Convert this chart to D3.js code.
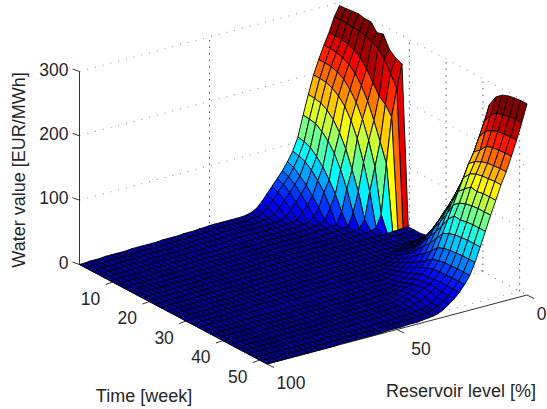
<!DOCTYPE html>
<html>
<head>
<meta charset="utf-8">
<script src="https://cdn.jsdelivr.net/npm/d3@7"></script>
<style>
  html, body { margin: 0; padding: 0; background: #fff; }
  svg { display: block; }
  text { font-family: "Liberation Sans", Arial, sans-serif; fill: #262626; }
</style>
</head>
<body>
<svg id="chart" width="547" height="409"></svg>
<script>
// ----------------------------------------------------------------
// DATA, one row per time step
// ----------------------------------------------------------------
const weeks = [1, 2.7, 4.4, 6.1, 7.8, 9.5, 11.2, 12.9, 14.6, 16.3, 18, 19.7, 21.4, 23.1, 24.8, 26.5,
  28.2, 29.9, 31.6, 33.3, 35, 36.7, 38.4, 40.1, 41.8, 43.5, 45.2, 46.9, 48.6, 50.3, 52];
const levels = [0, 2, 4, 6, 8, 10, 12, 14, 16, 18, 20, 22, 24, 26, 28, 30, 32, 34, 36, 38, 40, 42, 44, 46, 48, 50,
  52, 54, 56, 58, 60, 62, 64, 66, 68, 70, 72, 74, 76, 78, 80, 82, 84, 86, 88, 90, 92, 94, 96, 98, 100];

// water value [EUR/MWh], rows = weeks, columns = levels
const waterValues = [
  [295,280,258,240,220,198,170,140,108,88, 74,62,52,42,32,22,14,10,8,7, 7,7,7,7,7,7,6,6,5,5, 5,4,4,4,4,3,3,3,3,3, 3,2,2,2,2,2,1,1,1,0, 0],
  [296,280,258,240,220,198,169,139,106,86, 70,58,48,38,28,19,12,9,8,7, 7,7,7,7,7,7,6,6,5,5, 5,4,4,4,4,3,3,3,3,3, 3,2,2,2,2,2,1,1,1,0, 0],
  [297,280,257,239,219,197,167,137,102,82, 62,51,41,31,21,13,9,8,7,7, 7,7,7,7,7,7,6,6,5,5, 5,4,4,4,4,3,3,3,3,3, 3,2,2,2,2,2,1,1,1,0, 0],
  [298,279,255,236,216,193,161,130,93,74, 53,41,31,21,12,9,8,7,7,7, 7,7,7,7,7,7,6,6,5,5, 5,4,4,4,4,3,3,3,3,3, 3,2,2,2,2,2,1,1,1,0, 0],
  [296,278,251,231,210,186,151,120,82,63, 41,30,20,10,9,8,7,7,7,6, 7,7,7,7,7,7,6,6,5,5, 5,4,4,4,4,3,3,3,3,3, 3,2,2,2,2,2,1,1,1,0, 0],
  [296,276,244,222,199,175,136,106,67,50, 28,17,10,9,8,7,7,6,6,6, 6,6,6,6,6,5,5,5,5,4, 4,4,4,4,3,3,3,3,3,2, 2,2,2,2,1,1,1,1,1,0, 0],
  [284,272,232,208,184,158,116,86,50,31, 14,10,9,8,7,7,6,6,6,6, 6,6,6,5,5,5,5,5,4,4, 4,4,4,4,3,3,3,3,3,2, 2,2,2,2,1,1,1,1,1,0, 0],
  [287,266,216,189,163,135,89,61,28,10, 10,8,8,7,7,6,6,6,6,6, 6,6,6,5,5,5,5,5,4,4, 4,4,4,4,3,3,3,3,3,2, 2,2,2,2,1,1,1,1,1,0, 0],
  [268,256,200,164,135,103,60,29,10,9, 8,7,7,6,6,6,6,6,6,6, 6,6,6,5,5,5,5,5,4,4, 4,4,4,4,3,3,3,3,3,2, 2,2,2,2,1,1,1,1,1,0, 0],
  [260,238,192,136,99,63,22,10,8,8, 7,7,6,6,6,6,6,6,6,6, 6,6,6,5,5,5,5,5,4,4, 4,4,4,4,3,3,3,3,3,2, 2,2,2,2,1,1,1,1,1,0, 0],
  [256,220,178,107,30,12,9,8,7,7, 7,6,6,6,6,6,6,6,6,6, 6,6,6,5,5,5,5,5,4,4, 4,4,4,4,3,3,3,3,3,2, 2,2,2,2,1,1,1,1,1,0, 0],
  [8,8,7,7,6,6,6,6,6,6, 6,6,6,6,6,6,6,6,6,6, 6,6,6,5,5,5,5,5,4,4, 4,4,4,4,3,3,3,3,3,2, 2,2,2,2,1,1,1,1,1,0, 0],
  [8,8,7,7,7,6,6,6,6,6, 6,6,6,6,6,6,6,6,6,6, 6,6,6,5,5,5,5,5,4,4, 4,4,4,4,3,3,3,3,3,2, 2,2,2,2,1,1,1,1,1,0, 0],
  [8,8,8,7,7,6,6,6,6,6, 6,6,6,6,6,6,6,6,6,6, 6,6,6,5,5,5,5,5,4,4, 4,4,4,4,3,3,3,3,3,2, 2,2,2,2,1,1,1,1,1,0, 0],
  [10,9,8,7,7,7,6,6,6,6, 6,6,6,6,6,6,6,6,6,6, 6,6,6,5,5,5,5,5,4,4, 4,4,4,4,3,3,3,3,3,2, 2,2,2,2,1,1,1,1,1,0, 0],
  [18,16,15,13,12,11,10,8,7,6, 6,6,6,6,6,6,6,6,6,6, 6,6,6,5,5,5,5,5,4,4, 4,4,4,4,3,3,3,3,3,2, 2,2,2,2,1,1,1,1,1,0, 0],
  [32,29,26,24,22,20,17,15,13,10, 8,6,6,6,6,6,6,6,6,6, 6,6,6,5,5,5,5,5,4,4, 4,4,4,4,3,3,3,3,3,2, 2,2,2,2,1,1,1,1,1,0, 0],
  [45,41,37,34,30,28,24,21,18,14, 11,8,6,6,6,6,6,6,6,6, 6,6,6,5,5,5,5,5,4,4, 4,4,4,4,3,3,3,3,3,2, 2,2,2,2,1,1,1,1,1,0, 0],
  [65,59,54,49,44,40,35,30,25,21, 16,12,9,7,6,6,6,6,6,6, 6,6,6,5,5,5,5,5,4,4, 4,4,4,4,3,3,3,3,3,2, 2,2,2,2,1,1,1,1,1,0, 0],
  [92,84,76,69,62,56,50,43,36,29, 22,17,13,10,7,6,6,6,6,6, 6,6,6,5,5,5,5,5,4,4, 4,4,4,4,3,3,3,3,3,2, 2,2,2,2,1,1,1,1,1,0, 0],
  [122,111,101,91,82,75,66,57,48,39, 30,22,17,13,10,7,6,6,6,6, 5,5,4,4,4,3,3,3,3,2, 2,2,2,2,2,1,1,1,1,1, 1,1,1,0,0,0,0,0,0,0, 0],
  [155,141,128,116,104,95,84,73,61,49, 38,28,22,17,13,9,6,6,6,6, 5,5,4,4,4,3,3,3,3,2, 2,2,2,2,2,1,1,1,1,1, 1,1,1,0,0,0,0,0,0,0, 0],
  [188,171,155,140,127,115,101,88,74,59, 45,34,27,20,15,11,8,6,6,6, 5,5,4,4,4,3,3,3,3,2, 2,2,2,2,2,1,1,1,1,1, 1,1,1,0,0,0,0,0,0,0, 0],
  [224,204,185,167,151,133,121,105,88,71, 54,41,32,24,19,15,11,8,6,6, 5,5,4,4,4,3,3,3,3,2, 2,2,2,2,2,1,1,1,1,1, 1,1,1,0,0,0,0,0,0,0, 0],
  [265,241,219,198,182,162,143,124,104,84, 64,48,37,29,23,18,15,12,9,7, 5,5,4,4,4,3,3,3,3,2, 2,2,2,2,2,1,1,1,1,1, 1,1,1,0,0,0,0,0,0,0, 0],
  [282,256,233,206,190,173,152,132,114,89, 68,51,40,30,25,21,17,13,10,7, 5,5,4,4,4,3,3,3,3,2, 2,2,2,2,2,1,1,1,1,1, 1,1,1,0,0,0,0,0,0,0, 0],
  [290,264,239,217,195,178,160,136,113,92, 70,53,41,31,26,22,18,14,10,8, 5,5,4,4,4,3,3,3,3,2, 2,2,2,2,2,1,1,1,1,1, 1,1,1,0,0,0,0,0,0,0, 0],
  [294,267,243,220,198,180,158,138,115,93, 71,53,41,32,26,21,16,12,9,6, 5,5,4,4,4,3,3,3,3,2, 2,2,2,2,2,1,1,1,1,1, 1,1,1,0,0,0,0,0,0,0, 0],
  [296,269,244,221,199,181,160,139,116,94, 72,54,42,32,24,18,12,8,6,5, 4,3,3,3,2,2,2,2,1,1, 1,1,1,1,1,1,1,0,0,0, 0,0,0,0,0,0,0,0,0,0, 0],
  [297,270,245,222,200,182,160,139,116,94, 72,54,42,32,24,18,12,8,6,5, 4,3,3,3,2,2,2,2,1,1, 1,1,1,1,1,1,1,0,0,0, 0,0,0,0,0,0,0,0,0,0, 0],
  [297,270,245,222,200,182,160,139,116,94, 72,54,42,32,24,18,12,8,6,5, 4,3,3,3,2,2,2,2,1,1, 1,1,1,1,1,1,1,0,0,0, 0,0,0,0,0,0,0,0,0,0, 0]
];

const zTicks = [0, 100, 200, 300];
const timeTicks = [10, 20, 30, 40, 50];
const levelTicks = [0, 50, 100];

// ----------------------------------------------------------------
// SCALES + OBLIQUE PROJECTION
// ----------------------------------------------------------------
const svg = d3.select("#chart");

// screen position of the left corner of the box (week 1, level 100, value 0)
const originX = 79.5, originY = 264.5;

const timeX = d3.scaleLinear().domain([1, 52]).range([0, 187.5]);
const timeY = d3.scaleLinear().domain([1, 52]).range([0, 99.5]);
const levelX = d3.scaleLinear().domain([100, 0]).range([0, 260]);
const levelY = d3.scaleLinear().domain([100, 0]).range([0, -69]);
const zY = d3.scaleLinear().domain([0, 300]).range([0, -193]);

const project = (t, r, z) => [
  originX + timeX(t) + levelX(r),
  originY + timeY(t) + levelY(r) + zY(z)
];

// jet colormap, clipped a little under the top of the axis
const jet = d3.scaleLinear()
  .domain([0, 0.125, 0.375, 0.625, 0.875, 1].map(f => f * 285))
  .range(["#000098", "#0000ff", "#00ffff", "#ffff00", "#ff0000", "#800000"])
  .clamp(true);

const line = d3.line();
const seg = (a, b) => line([a, b]);

// ----------------------------------------------------------------
// GRID (dotted, on the two back walls and the floor)
// ----------------------------------------------------------------
const grid = svg.append("g").attr("fill", "none");

function dotted(a, b, col, dash) {
  grid.append("path").attr("d", seg(a, b))
    .attr("stroke", col).attr("stroke-width", 1).attr("stroke-dasharray", dash);
}

zTicks.forEach(z => {
  dotted(project(1, 100, z), project(1, 0, z), "#8a8a8a", "1 7");
  dotted(project(1, 0, z), project(52, 0, z), "#8a8a8a", "1 7");
});
levelTicks.forEach(r => {
  if (r < 100) dotted(project(1, r, 0), project(1, r, 300), "#555", "1.5 5");
  dotted(project(1, r, 0), project(52, r, 0), "#8a8a8a", "1 7");
});
timeTicks.forEach(t => {
  dotted(project(t, 0, 0), project(t, 0, 300), "#555", "1.5 5");
  dotted(project(t, 0, 0), project(t, 100, 0), "#8a8a8a", "1 7");
});

// ----------------------------------------------------------------
// AXES
// ----------------------------------------------------------------
const axes = svg.append("g").attr("fill", "none").attr("stroke", "#333").attr("stroke-width", 1);

axes.append("path").attr("d", seg(project(1, 100, 0), project(1, 100, 300)));
axes.append("path").attr("d", seg(project(1, 100, 0), project(52, 100, 0)));
axes.append("path").attr("d", seg(project(52, 100, 0), project(52, 0, 0)));

zTicks.forEach(z => {
  const p = project(1, 100, z);
  axes.append("path").attr("d", seg(p, [p[0] - 7, p[1] - 2.5]));
  svg.append("text").attr("x", p[0] - 11).attr("y", p[1] - 0.5)
    .attr("text-anchor", "end").attr("dominant-baseline", "middle")
    .attr("font-size", 17.5).text(z);
});
timeTicks.forEach(t => {
  const p = project(t, 100, 0);
  axes.append("path").attr("d", seg(p, [p[0] - 7, p[1] + 2.5]));
  svg.append("text").attr("x", p[0] - 22).attr("y", p[1] + 18)
    .attr("text-anchor", "middle").attr("dominant-baseline", "middle")
    .attr("font-size", 17.5).text(t);
});
levelTicks.forEach(r => {
  const p = project(52, r, 0);
  axes.append("path").attr("d", seg(p, [p[0] + 7, p[1] + 3.5]));
  // the "0" sits against the right edge of the window, keep it inside
  svg.append("text").attr("x", Math.min(p[0] + 24, 541.5)).attr("y", p[1] + 20.5)
    .attr("text-anchor", "middle").attr("dominant-baseline", "middle")
    .attr("font-size", 17.5).text(r);
});

svg.append("text").attr("transform", "translate(20,170) rotate(-90)")
  .attr("text-anchor", "middle").attr("dominant-baseline", "middle")
  .attr("font-size", 18).text("Water value [EUR/MWh]");
svg.append("text").attr("x", 144).attr("y", 397)
  .attr("text-anchor", "middle").attr("dominant-baseline", "middle")
  .attr("font-size", 18).text("Time [week]");
svg.append("text").attr("x", 461).attr("y", 392)
  .attr("text-anchor", "middle").attr("dominant-baseline", "middle")
  .attr("font-size", 18).text("Reservoir level [%]");

// ----------------------------------------------------------------
// SURFACE - one quad per cell, painted back to front
// ----------------------------------------------------------------
const cells = [];
weeks.slice(0, -1).forEach((t, i) => {
  levels.slice(0, -1).forEach((r, j) => {
    const t2 = weeks[i + 1], r2 = levels[j + 1];
    cells.push({
      pts: [
        project(t, r, waterValues[i][j]),
        project(t2, r, waterValues[i + 1][j]),
        project(t2, r2, waterValues[i + 1][j + 1]),
        project(t, r2, waterValues[i][j + 1])
      ],
      depth: project((t + t2) / 2, (r + r2) / 2, 0)[1],
      value: waterValues[i][j]
    });
  });
});
cells.sort((a, b) => d3.ascending(a.depth, b.depth));

svg.append("g")
  .selectAll("path")
  .data(cells)
  .join("path")
    .attr("d", d => line(d.pts) + "Z")
    .attr("fill", d => jet(d.value))
    .attr("stroke", "#000")
    .attr("stroke-width", 0.9)
    .attr("stroke-linejoin", "round");
</script>
</body>
</html>
